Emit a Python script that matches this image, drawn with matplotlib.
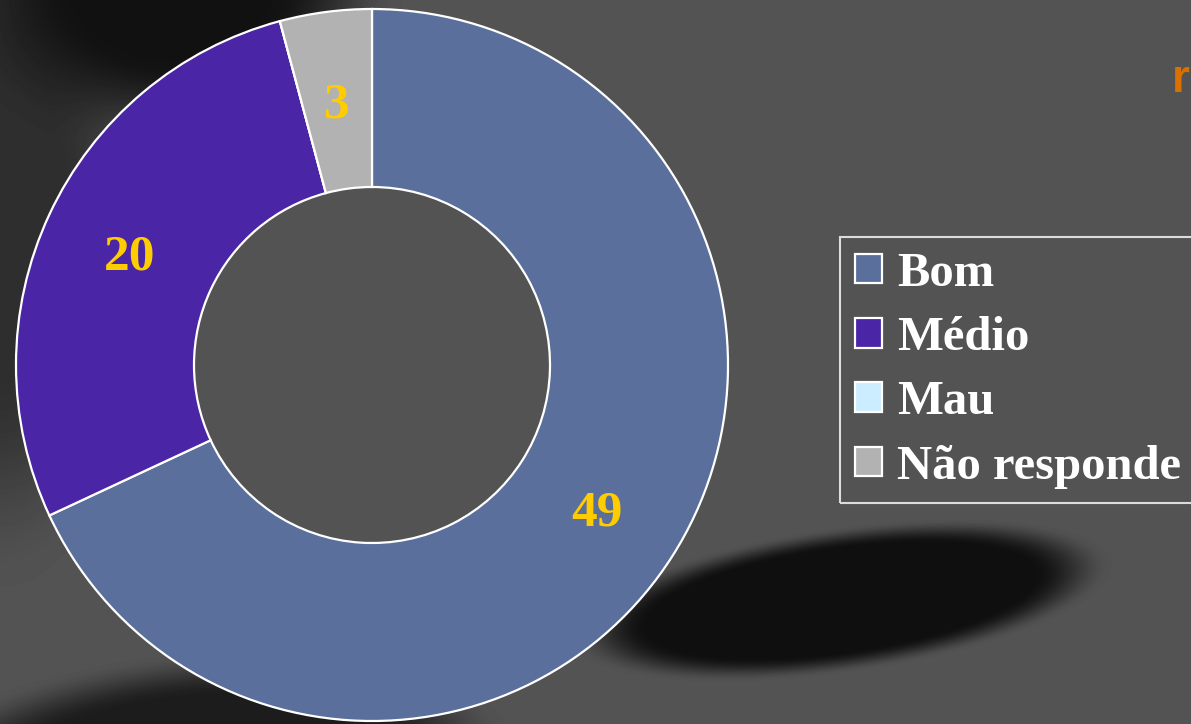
# Donut chart: avaliação (Bom / Médio / Mau / Não responde)

import matplotlib.pyplot as plt
import numpy as np

categories = ['Bom', 'Médio', 'Mau', 'Não responde']
counts = [49, 20, 0, 3]
colors = ['#5a6f9c', '#4a25a6', '#ccecff', '#b2b2b2']

W, H = 1191, 724
fig = plt.figure(figsize=(W / 100, H / 100), dpi=100)

# background: dark grey with soft shadows
bg = fig.add_axes([0, 0, 1, 1])
yy, xx = np.mgrid[0:H, 0:W]
img = np.full((H, W), 0.325)


def shade(cx, cy, rx, ry, level, ang=0.0, soft=1.0):
    global img
    a = np.deg2rad(ang)
    dx, dy = xx - cx, yy - cy
    u = (dx * np.cos(a) + dy * np.sin(a)) / rx
    v = (-dx * np.sin(a) + dy * np.cos(a)) / ry
    d = np.sqrt(u ** 2 + v ** 2)
    w = np.clip((1.0 + 0.5 * soft - d) / soft, 0, 1)
    w = w * w * (3 - 2 * w)
    img = img * (1 - w) + level * w


shade(0, 220, 110, 260, 0.18, soft=0.9)
shade(170, -20, 170, 130, 0.07, soft=0.8)
shade(190, 770, 260, 95, 0.11, ang=-6, soft=0.5)
shade(840, 600, 235, 62, 0.06, ang=-8, soft=0.35)
bg.imshow(img, cmap='gray', vmin=0, vmax=1, extent=[0, W, H, 0], aspect='auto')
bg.set_xlim(0, W)
bg.set_ylim(H, 0)
bg.axis('off')

# donut axes: centre (372, 365) px, outer radius 356 px
R = 356
half = 362
ax = fig.add_axes([(372 - half) / W, (H - 365 - half) / H, 2 * half / W, 2 * half / H])
ax.set_facecolor('none')

total = sum(counts)


def fmt(pct):
    v = int(round(pct * total / 100.0))
    return str(v) if v > 0 else ''


wedges, texts, autotexts = ax.pie(
    counts, colors=colors, startangle=90, counterclock=False,
    radius=1.0, autopct=fmt, pctdistance=0.75,
    wedgeprops=dict(width=0.5, edgecolor='white', linewidth=1.6),
    textprops=dict(color='#ffcc00', fontsize=37, fontweight='bold',
                   family='Liberation Serif'))
for t in autotexts:
    t.set_va('center_baseline')
lim = half / R
ax.set_xlim(-lim, lim)
ax.set_ylim(-lim, lim)
ax.set_aspect('equal')

leg = fig.legend(wedges, categories, loc='upper left',
                 bbox_to_anchor=(840 / W, 1 - 237 / H), borderaxespad=0,
                 frameon=True, fancybox=False,
                 prop=dict(family='Liberation Serif', weight='bold', size=35),
                 handlelength=0.56, handleheight=0.56, handletextpad=0.31,
                 labelspacing=0.42, borderpad=0.3)
leg.get_frame().set_facecolor('none')
leg.get_frame().set_edgecolor('white')
leg.get_frame().set_linewidth(1.5)
for t in leg.get_texts():
    t.set_color('white')

fig.text(1 - 1 / W, 1 - 92 / H, 'r', color='#d97000', fontsize=33,
         fontweight='bold', family='Liberation Sans', ha='right', va='baseline')

fig.savefig('out.png', dpi=100)
